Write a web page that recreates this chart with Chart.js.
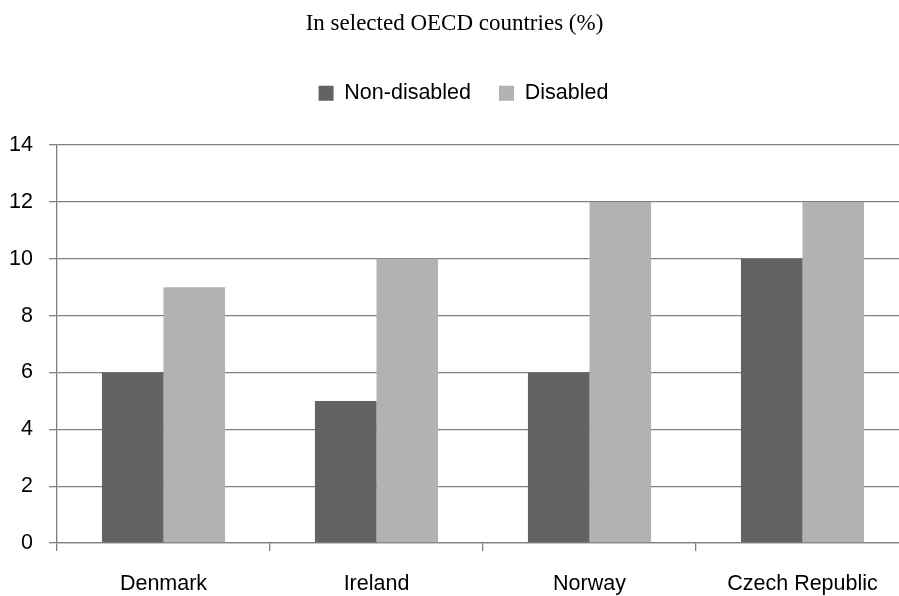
<!DOCTYPE html>
<html>
<head>
<meta charset="utf-8">
<script src="https://cdn.jsdelivr.net/npm/chart.js@4.4.1/dist/chart.umd.min.js"></script>
<style>
html,body{margin:0;padding:0;background:#fff;overflow:hidden;}
#wrap{width:912px;height:596px;position:relative;}
</style>
</head>
<body>
<div id="wrap"><canvas id="c" width="912" height="596"></canvas></div>
<script>
const categories = ["Denmark", "Ireland", "Norway", "Czech Republic"];
const nonDisabled = [6, 5, 6, 10];
const disabled = [9, 10, 12, 12];
const yTicks = [0, 2, 4, 6, 8, 10, 12, 14];
const titleText = "In selected OECD countries (%)";

const sans = "'Liberation Sans Narrow', 'Arial Narrow', 'Liberation Sans', Arial, sans-serif";

const legendSpacer = {
  id: 'legendSpacer',
  beforeInit(chart) {
    const lg = chart.legend;
    const origFit = lg.fit;
    lg.fit = function () {
      origFit.call(this);
      this.height += 31;
    };
    const origDraw = lg.draw;
    lg.draw = function () {
      const ctx = this.ctx;
      ctx.save();
      ctx.translate(9, 0);
      origDraw.apply(this, arguments);
      ctx.restore();
    };
  }
};

new Chart(document.getElementById('c'), {
  type: 'bar',
  data: {
    labels: categories,
    datasets: [
      { label: 'Non-disabled', data: nonDisabled, backgroundColor: '#636363', categoryPercentage: 0.578, barPercentage: 1.0 },
      { label: 'Disabled', data: disabled, backgroundColor: '#b2b2b2', categoryPercentage: 0.578, barPercentage: 1.0 }
    ]
  },
  plugins: [legendSpacer],
  options: {
    responsive: false,
    animation: false,
    devicePixelRatio: 1,
    layout: { padding: { left: 0, right: 3, top: 0, bottom: 0 } },
    plugins: {
      title: {
        display: true,
        text: titleText,
        color: '#000',
        font: { family: "'Liberation Serif', 'Times New Roman', serif", size: 23, weight: 'normal' },
        padding: { top: 10, bottom: 17 }
      },
      legend: {
        display: true,
        position: 'top',
        labels: {
          color: '#000',
          font: { family: sans, size: 21.5 },
          boxWidth: 15,
          boxHeight: 15,
          padding: 28
        }
      },
      tooltip: { enabled: false }
    },
    scales: {
      x: {
        grid: { display: true, drawOnChartArea: false, drawTicks: true, tickLength: 8, color: '#808080', lineWidth: 1.3, offset: true },
        border: { display: true, color: '#808080', width: 1.3 },
        ticks: { color: '#000', font: { family: sans, size: 21.5 }, padding: 20, maxRotation: 0 },
        afterFit: (s) => { s.height = 53; }
      },
      y: {
        min: 0, max: 14,
        afterBuildTicks: (s) => { s.ticks = yTicks.map(v => ({ value: v })); },
        grid: { display: true, drawTicks: true, tickLength: 8, color: '#808080', lineWidth: 1.3 },
        border: { display: true, color: '#808080', width: 1.3 },
        ticks: { color: '#000', font: { family: sans, size: 21.5 }, padding: 16 },
        afterFit: (s) => { s.width = 57; }
      }
    }
  }
});
</script>
</body>
</html>
